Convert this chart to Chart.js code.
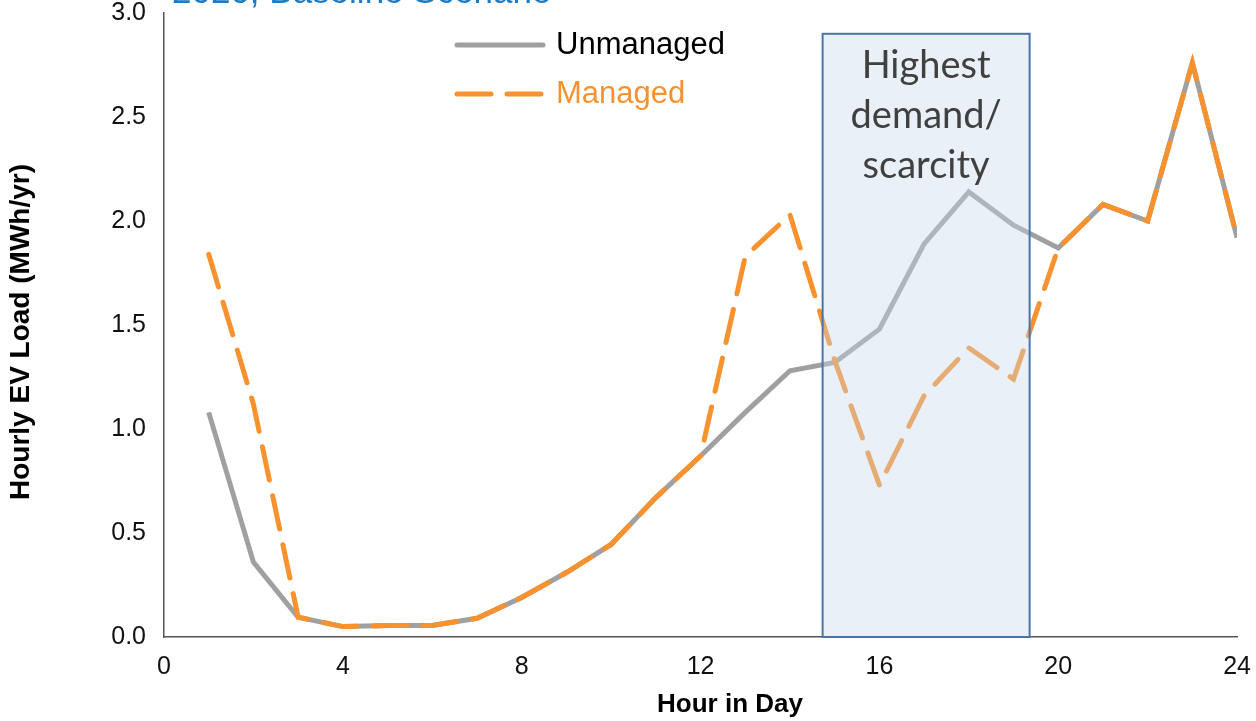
<!DOCTYPE html>
<html>
<head>
<meta charset="utf-8">
<script src="https://cdn.jsdelivr.net/npm/chart.js@4"></script>
<style>
  html, body { margin: 0; padding: 0; background: #fff; }
  #wrap { width: 1256px; height: 721px; position: relative; overflow: hidden; }
  #chart { position: absolute; left: 0; top: -20px; }
</style>
</head>
<body>
<div id="wrap"><canvas id="chart" width="1266" height="741"></canvas></div>
<script>
// --- Data ---
const hours = [1, 2, 3, 4, 5, 6, 7, 8, 9, 10, 11, 12, 13, 14, 15, 16, 17, 18, 19, 20, 21, 22, 23, 24];
const unmanaged = [1.08, 0.36, 0.095, 0.05, 0.055, 0.055, 0.09, 0.19, 0.31, 0.445, 0.67, 0.87,
                   1.08, 1.28, 1.32, 1.48, 1.89, 2.14, 1.98, 1.87, 2.08, 2.0, 2.76, 1.92];
const managed = [1.84, 1.12, 0.095, 0.05, 0.055, 0.055, 0.09, 0.19, 0.31, 0.445, 0.67, 0.87,
                 1.83, 2.03, 1.33, 0.73, 1.16, 1.39, 1.24, 1.87, 2.08, 2.0, 2.76, 1.92];
const seriesNames = ['Unmanaged', 'Managed'];
const xTicks = [0, 4, 8, 12, 16, 20, 24];
const titleText = '2020, Baseline Scenario';
const xTitle = 'Hour in Day';
const yTitle = 'Hourly EV Load (MWh/yr)';
const boxLines = ['Highest', 'demand/', 'scarcity'];

const GRAY = '#a0a0a0';
const ORANGE = '#f7922e';
const DASH = [34, 16];
const tickFont = "'Liberation Sans Narrow', 'Liberation Sans', Arial, sans-serif";
const OFF = 20; // canvas sits 20px above the page top, so the title is cut

// cut-off title, shaded window, legend, axis titles
const overlay = {
    id: 'overlay',
    afterDatasetsDraw(chart) {
        const ctx = chart.ctx;
        const xs = chart.scales.x, ys = chart.scales.y;
        // scarcity window
        const l = xs.getPixelForValue(14.73), r = xs.getPixelForValue(19.36);
        const t = ys.getPixelForValue(2.9), b = ys.getPixelForValue(0);
        ctx.save();
        ctx.fillStyle = 'rgba(200,215,235,0.38)';
        ctx.fillRect(l, t, r - l, b - t);
        ctx.strokeStyle = '#4a74a8';
        ctx.lineWidth = 2;
        ctx.strokeRect(l, t, r - l, b - t);
        ctx.fillStyle = '#404040';
        ctx.font = "38px Lato, 'Open Sans', sans-serif";
        ctx.textAlign = 'center';
        ctx.textBaseline = 'middle';
        boxLines.forEach((s, i) => ctx.fillText(s, (l + r) / 2, OFF + 66 + i * 50));

        // title, partly above the frame
        ctx.textAlign = 'left';
        ctx.textBaseline = 'alphabetic';
        ctx.fillStyle = '#1b7cc4';
        ctx.font = "35px 'Liberation Sans', Arial, sans-serif";
        ctx.fillText(titleText, 172, OFF + 3);

        // axis titles
        ctx.fillStyle = '#000';
        ctx.font = "bold 26px " + tickFont;
        ctx.textAlign = 'center';
        ctx.textBaseline = 'middle';
        ctx.fillText(xTitle, 730, OFF + 705);
        ctx.save();
        ctx.translate(21, OFF + 332);
        ctx.rotate(-Math.PI / 2);
        ctx.font = "bold 28px " + tickFont;
        ctx.fillText(yTitle, 0, 0);
        ctx.restore();

        // legend
        const items = [
            { label: seriesNames[0], color: GRAY, dash: [], textColor: '#000', y: 45 },
            { label: seriesNames[1], color: ORANGE, dash: DASH, textColor: ORANGE, y: 94 }
        ];
        ctx.textAlign = 'left';
        items.forEach(it => {
            ctx.beginPath();
            ctx.setLineDash(it.dash);
            ctx.strokeStyle = it.color;
            ctx.lineWidth = 5;
            ctx.lineCap = 'round';
            ctx.moveTo(457, OFF + it.y);
            ctx.lineTo(543, OFF + it.y);
            ctx.stroke();
            ctx.setLineDash([]);
            ctx.fillStyle = it.textColor;
            ctx.font = "31px " + tickFont;
            ctx.textBaseline = 'middle';
            ctx.fillText(it.label, 556, OFF + it.y);
        });
        ctx.restore();
    }
};

new Chart(document.getElementById('chart'), {
    type: 'line',
    data: {
        datasets: [
            {
                label: seriesNames[0],
                data: hours.map((h, i) => ({ x: h, y: unmanaged[i] })),
                borderColor: GRAY,
                borderWidth: 5,
                pointRadius: 0,
                tension: 0,
                order: 1
            },
            {
                label: seriesNames[1],
                data: hours.map((h, i) => ({ x: h, y: managed[i] })),
                borderColor: ORANGE,
                borderWidth: 5,
                borderDash: DASH,
                borderCapStyle: 'round',
                pointRadius: 0,
                tension: 0,
                order: 0
            }
        ]
    },
    options: {
        responsive: false,
        animation: false,
        events: [],
        layout: { padding: { top: 0, right: 7, left: 0, bottom: 0 } },
        plugins: {
            legend: { display: false },
            title: { display: false },
            tooltip: { enabled: false }
        },
        scales: {
            x: {
                type: 'linear',
                min: 0,
                max: 24,
                afterBuildTicks: axis => { axis.ticks = xTicks.map(v => ({ value: v })); },
                afterFit: axis => { axis.height = 84; },
                grid: { display: false, drawTicks: false },
                border: { display: true, color: '#555', width: 1.5 },
                ticks: { color: '#111', padding: 15, font: { family: tickFont, size: 25 } }
            },
            y: {
                min: 0,
                max: 3,
                afterFit: axis => { axis.width = 164; },
                grid: { display: false, drawTicks: false },
                border: { display: true, color: '#555', width: 1.5 },
                ticks: {
                    stepSize: 0.5,
                    color: '#111',
                    padding: 18,
                    font: { family: tickFont, size: 25 },
                    callback: v => v.toFixed(1)
                }
            }
        }
    },
    plugins: [overlay]
});
</script>
</body>
</html>
